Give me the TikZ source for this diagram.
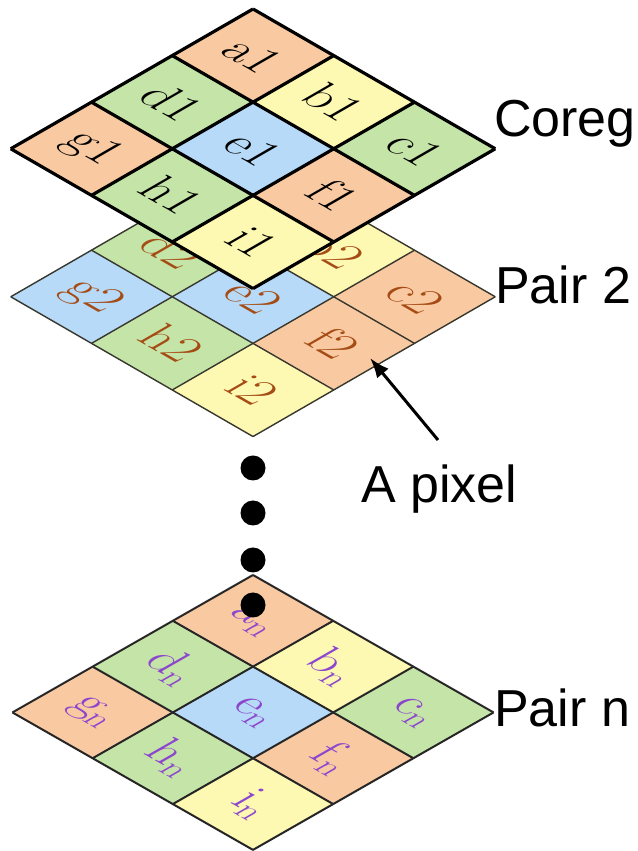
\documentclass[tikz,border=0pt]{standalone}
\usepackage{fontspec}
\newfontfamily\labelsans{Liberation Sans}
\usetikzlibrary{arrows.meta}
\definecolor{cor}{RGB}{249,202,162}
\definecolor{cgr}{RGB}{197,228,168}
\definecolor{cye}{RGB}{253,248,178}
\definecolor{cbl}{RGB}{182,218,248}
\definecolor{ltwo}{RGB}{55,55,45}
\definecolor{ttwo}{RGB}{165,75,20}
\definecolor{tn}{RGB}{140,70,205}
\tikzset{
  cellone/.style={draw=black, line width=3.2pt, line join=round},
  celltwo/.style={draw=ltwo, line width=1.4pt, line join=round},
  celln/.style={draw=black!85, line width=2pt, line join=round},
  lab/.style={transform shape, inner sep=0pt, font=\fontsize{62}{62}\selectfont},
  sidetext/.style={anchor=base west, inner sep=0pt, font=\labelsans\fontsize{52}{52}\selectfont},
  dotmark/.style={circle, fill=black, minimum size=25pt, inner sep=0pt},
  pointer/.style={line width=3pt, -{Latex[length=20pt,width=15pt]}}
}
\begin{document}
\begin{tikzpicture}[x=1pt,y=1pt]
\useasboundingbox (0,0) rectangle (637,851);
% ---- Pair 2 layer
\begin{scope}[shift={(253,694)}, cm={0.7071,-0.408,0.7071,0.408,(0,0)}]
  \foreach \n/\i/\j/\c in {a/0/0/cor, b/1/0/cye, c/2/0/cor, d/0/1/cgr, e/1/1/cbl, f/2/1/cor, g/0/2/cbl, h/1/2/cgr, i/2/2/cye}{
    \fill[fill=\c] (\i*114.2,-\j*114.2) rectangle ++(114.2,-114.2);
    \node[lab, text=ttwo] (\n2) at (\i*114.2+57.1,-\j*114.2-57.1) {\n2};
  }
  \foreach \k in {0,1,2,3}{
    \draw[celltwo] (\k*114.2,0) -- (\k*114.2,-342.6);
    \draw[celltwo] (0,-\k*114.2) -- (342.6,-\k*114.2);
  }
\end{scope}
% ---- Coreg layer
\begin{scope}[shift={(253,842)}, cm={0.7071,-0.408,0.7071,0.408,(0,0)}]
  \foreach \n/\i/\j/\c in {a/0/0/cor, b/1/0/cye, c/2/0/cgr, d/0/1/cgr, e/1/1/cbl, f/2/1/cor, g/0/2/cor, h/1/2/cgr, i/2/2/cye}{
    \fill[fill=\c] (\i*114.2,-\j*114.2) rectangle ++(114.2,-114.2);
    \node[lab, text=black] (\n1) at (\i*114.2+57.1,-\j*114.2-57.1) {\n1};
  }
  \foreach \k in {0,1,2,3}{
    \draw[cellone] (\k*114.2,0) -- (\k*114.2,-342.6);
    \draw[cellone] (0,-\k*114.2) -- (342.6,-\k*114.2);
  }
\end{scope}
% ---- Pair n layer
\begin{scope}[shift={(253,276)}, cm={0.7071,-0.404,0.7071,0.404,(0,0)}]
  \foreach \n/\i/\j/\c in {a/0/0/cor, b/1/0/cye, c/2/0/cgr, d/0/1/cgr, e/1/1/cbl, f/2/1/cor, g/0/2/cor, h/1/2/cgr, i/2/2/cye}{
    \fill[fill=\c] (\i*113.4,-\j*113.4) rectangle ++(113.4,-113.4);
    \node[lab, text=tn] (\n-n) at (\i*113.4+56.7,-\j*113.4-56.7) {\n\textsubscript{n}};
  }
  \foreach \k in {0,1,2,3}{
    \draw[celln] (\k*113.4,0) -- (\k*113.4,-340.2);
    \draw[celln] (0,-\k*113.4) -- (340.2,-\k*113.4);
  }
\end{scope}
% ---- dots
\node[dotmark] (dot1) at (253,383) {};
\node[dotmark] (dot2) at (253,338) {};
\node[dotmark] (dot3) at (253,291) {};
\node[dotmark] (dot4) at (253,246) {};
% ---- side labels
\node[sidetext] (coreg) at (494,714) {Coreg};
\node[sidetext] (pair2) at (495,547) {Pair 2};
\node[sidetext] (pairn) at (494,124) {Pair n};
\node[sidetext] (apixel) at (361,348) {A pixel};
% ---- arrow
\coordinate (tail) at (438,411);
\coordinate (tip) at (370,493);
\draw[pointer] (tail) -- (tip);
\end{tikzpicture}
\end{document}
